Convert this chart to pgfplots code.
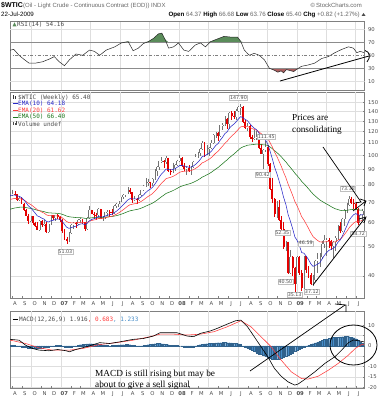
\documentclass[border=0pt]{standalone}
\usepackage{pgfplots}
\pgfplotsset{compat=1.18}
\usepackage{pgfplotstable}
\usepgfplotslibrary{fillbetween}
\usetikzlibrary{arrows.meta}
\usepackage{fontspec}
\setmainfont{Liberation Sans}
\newfontfamily\dv{DejaVu Sans}
\newfontfamily\dvm{DejaVu Sans Mono}
\newfontfamily\annot{Liberation Serif}
\definecolor{cred}{RGB}{228,0,0}
\definecolor{e10}{RGB}{40,40,200}
\definecolor{e20}{RGB}{255,60,60}
\definecolor{e50}{RGB}{30,120,30}
\definecolor{histc}{RGB}{70,140,200}
\definecolor{rsig}{RGB}{90,140,90}
\definecolor{rsir}{RGB}{170,95,95}
\newcommand{\tf}{\dv\fontsize{5.3}{6}\selectfont}
\newcommand{\lf}{\dvm\fontsize{6}{7}\selectfont}
\tikzset{lbl/.style={font=\dv\fontsize{4.8}{5}\selectfont, text=black!70, fill=white, draw=black!25, line width=0.3pt, inner sep=0.7pt}}

\pgfplotstableread{
i O H L C E10 E20 E50 d
0 73.8 77.0 72.8 74.4 73.66 71.32 66.14 0
1 74.4 76.0 72.9 74.4 73.79 71.62 66.46 0
2 74.4 77.1 73.6 74.8 73.98 71.92 66.79 0
3 74.8 76.5 73.9 74.4 74.05 72.15 67.09 1
4 74.4 74.6 70.9 71.1 73.52 72.05 67.25 1
5 71.1 73.4 70.8 72.5 73.33 72.10 67.46 0
6 72.5 72.9 69.0 69.2 72.58 71.82 67.53 1
7 69.2 69.8 65.6 66.3 71.44 71.30 67.48 1
8 66.3 66.8 63.2 63.3 69.96 70.54 67.32 1
9 63.3 64.1 59.5 60.6 68.25 69.59 67.06 1
10 60.6 63.3 60.2 62.9 67.28 68.95 66.90 0
11 62.9 63.0 58.9 59.8 65.92 68.08 66.62 1
12 59.8 60.5 57.9 58.6 64.59 67.18 66.31 1
13 58.6 60.2 56.6 56.8 63.17 66.19 65.94 1
14 56.8 61.1 56.4 60.8 62.74 65.68 65.74 0
15 60.8 61.3 57.9 59.1 62.07 65.05 65.48 1
16 59.1 61.1 58.4 59.6 61.62 64.53 65.25 0
17 59.6 60.1 55.3 55.8 60.56 63.70 64.88 1
18 55.8 59.6 55.5 59.2 60.32 63.27 64.66 0
19 59.2 63.8 59.0 63.4 60.88 63.29 64.61 0
20 63.4 63.7 61.4 62.0 61.08 63.16 64.51 1
21 62.0 63.8 60.6 63.4 61.51 63.19 64.47 0
22 63.4 64.0 61.5 62.4 61.67 63.11 64.39 1
23 62.4 62.9 60.5 61.1 61.57 62.92 64.26 1
24 61.1 61.5 55.3 56.3 60.61 62.29 63.95 1
25 56.3 57.0 52.4 53.0 59.22 61.40 63.52 1
26 53.0 53.8 51.03 52.0 57.91 60.51 63.07 1
27 52.0 55.9 51.8 55.4 57.45 60.02 62.77 0
28 55.4 59.4 55.1 59.0 57.73 59.92 62.62 0
29 59.0 60.3 57.3 59.9 58.13 59.92 62.51 0
30 59.9 60.4 57.8 59.4 58.36 59.87 62.39 1
31 59.4 61.7 58.9 61.1 58.86 59.99 62.34 0
32 61.1 62.0 59.9 61.6 59.36 60.14 62.31 0
33 61.6 61.9 59.2 60.1 59.49 60.14 62.22 1
34 60.1 60.3 56.1 57.1 59.06 59.85 62.02 1
35 57.1 62.7 56.7 62.3 59.65 60.08 62.03 0
36 62.3 68.1 61.8 65.9 60.79 60.64 62.18 0
37 65.9 66.2 63.9 64.3 61.43 60.99 62.26 1
38 64.3 64.9 61.9 63.6 61.82 61.23 62.31 1
39 63.6 64.8 61.3 63.4 62.11 61.44 62.35 1
40 63.4 66.9 63.0 66.5 62.91 61.92 62.51 0
41 66.5 66.7 61.5 61.9 62.73 61.92 62.49 1
42 61.9 63.1 60.9 62.4 62.67 61.97 62.49 0
43 62.4 65.3 61.8 64.9 63.07 62.25 62.58 0
44 64.9 66.0 63.1 65.2 63.46 62.53 62.68 0
45 65.2 66.0 62.8 65.1 63.76 62.77 62.78 1
46 65.1 66.6 63.8 64.8 63.95 62.97 62.86 1
47 64.8 68.4 64.1 68.0 64.69 63.45 63.06 0
48 68.0 69.5 67.2 69.0 65.47 63.97 63.29 0
49 69.0 71.0 67.8 70.7 66.42 64.61 63.58 0
50 70.7 73.1 70.1 72.8 67.58 65.39 63.94 0
51 72.8 74.6 71.6 73.9 68.73 66.20 64.33 0
52 73.9 76.0 73.0 75.6 69.98 67.10 64.77 0
53 75.6 78.8 74.5 77.0 71.26 68.04 65.25 0
54 77.0 78.0 74.5 75.5 72.03 68.75 65.65 1
55 75.5 75.6 69.8 71.5 71.93 69.01 65.88 1
56 71.5 73.6 70.5 72.0 71.95 69.30 66.12 0
57 72.0 72.5 69.0 71.1 71.79 69.47 66.32 1
58 71.1 74.5 70.6 74.0 72.19 69.90 66.62 0
59 74.0 77.2 73.5 76.7 73.02 70.55 67.02 0
60 76.7 80.2 76.2 79.1 74.12 71.36 67.49 0
61 79.1 84.1 78.6 81.6 75.48 72.34 68.04 0
62 81.6 83.9 79.3 81.7 76.62 73.23 68.58 0
63 81.7 82.0 78.3 81.2 77.45 73.99 69.07 1
64 81.2 84.3 79.6 83.7 78.59 74.91 69.65 0
65 83.7 90.1 82.8 88.6 80.41 76.22 70.39 0
66 88.6 92.2 85.7 91.9 82.50 77.71 71.23 0
67 91.9 96.2 89.6 95.9 84.94 79.44 72.20 0
68 95.9 98.6 94.4 96.3 87.01 81.05 73.15 0
69 96.3 96.8 91.2 95.1 88.48 82.38 74.01 1
70 95.1 99.3 94.0 98.2 90.25 83.89 74.95 0
71 98.2 98.4 88.4 88.7 89.97 84.35 75.49 1
72 88.7 90.2 86.2 88.3 89.66 84.72 75.99 1
73 88.3 94.8 87.6 91.3 89.96 85.35 76.59 0
74 91.3 93.7 89.0 93.3 90.57 86.10 77.25 0
75 93.3 97.0 92.6 96.0 91.56 87.04 77.98 0
76 96.0 100.1 95.0 97.9 92.71 88.08 78.76 0
77 97.9 98.7 91.8 92.7 92.71 88.52 79.31 1
78 92.7 94.3 88.9 90.6 92.33 88.72 79.75 1
79 90.6 91.9 86.1 90.7 92.03 88.90 80.18 0
80 90.7 92.8 88.4 89.0 91.48 88.91 80.53 1
81 89.0 92.2 86.1 91.8 91.54 89.19 80.97 0
82 91.8 96.0 91.2 95.5 92.26 89.79 81.54 0
83 95.5 101.3 94.9 98.8 93.45 90.65 82.22 0
84 98.8 103.1 98.0 101.8 94.97 91.71 82.98 0
85 101.8 106.0 99.6 105.2 96.83 92.99 83.86 0
86 105.2 111.8 104.1 110.2 99.26 94.63 84.89 0
87 110.2 110.6 98.7 101.8 99.73 95.31 85.55 1
88 101.8 108.0 100.3 105.6 100.79 96.29 86.34 0
89 105.6 106.4 99.6 106.2 101.78 97.24 87.12 0
90 106.2 112.2 105.3 110.1 103.29 98.46 88.02 0
91 110.1 117.8 108.9 116.7 105.73 100.20 89.14 0
92 116.7 119.9 114.5 118.5 108.06 101.94 90.29 0
93 118.5 119.9 111.8 116.3 109.56 103.31 91.31 1
94 116.3 126.2 115.5 126.0 112.55 105.47 92.68 0
95 126.0 127.8 121.8 126.3 115.05 107.45 94.00 0
96 126.3 135.1 125.6 132.2 118.17 109.81 95.50 0
97 132.2 133.3 122.5 127.4 119.85 111.48 96.75 1
98 127.4 139.1 122.3 138.5 123.25 114.05 98.38 0
99 138.5 139.9 131.5 134.9 125.37 116.04 99.81 1
100 134.9 139.9 131.8 134.6 127.05 117.81 101.18 1
101 134.6 142.9 131.5 140.2 129.44 119.94 102.71 0
102 140.2 145.9 139.3 144.3 132.15 122.26 104.34 0
103 144.3 147.90 136.0 145.1 134.50 124.43 105.94 0
104 145.1 145.6 128.2 128.9 133.48 124.86 106.84 1
105 128.9 131.4 122.2 123.3 131.63 124.71 107.48 1
106 123.3 127.9 120.4 125.1 130.44 124.75 108.17 0
107 125.1 125.8 113.4 115.2 127.67 123.84 108.45 1
108 115.2 117.3 111.3 113.8 125.14 122.88 108.66 1
109 113.8 121.8 112.2 114.6 123.22 122.09 108.89 0
110 114.6 120.4 113.0 115.5 121.82 121.46 109.15 0
111 115.5 118.3 105.5 106.2 118.98 120.01 109.04 1
112 106.2 108.9 100.9 101.2 115.74 118.22 108.73 1
113 101.2 105.0 90.42 104.6 113.71 116.92 108.57 0
114 104.6 111.45 103.0 106.9 112.47 115.97 108.50 0
115 106.9 108.4 92.6 93.9 109.09 113.87 107.93 1
116 93.9 94.5 77.2 77.7 103.38 110.42 106.74 1
117 77.7 84.5 69.9 71.9 97.65 106.76 105.38 1
118 71.9 72.2 62.6 64.2 91.56 102.71 103.76 1
119 64.2 71.0 62.0 67.8 87.24 99.38 102.35 0
120 67.8 71.2 60.9 61.0 82.46 95.73 100.73 1
121 61.0 63.2 55.8 57.0 77.83 92.04 99.02 1
122 57.0 60.5 49.1 49.9 72.75 88.03 97.09 1
123 49.9 52.35 48.3 51.8 68.94 84.58 95.32 0
124 51.8 51.9 40.50 40.8 63.82 80.41 93.19 1
125 40.8 48.6 40.6 46.3 60.64 77.16 91.35 0
126 46.3 46.5 39.9 42.4 57.32 73.85 89.43 1
127 42.4 42.9 35.13 37.7 53.75 70.41 87.40 1
128 37.7 46.5 37.5 46.3 52.39 68.11 85.79 0
129 46.3 46.4 40.4 40.8 50.28 65.51 84.02 1
130 40.8 41.9 35.6 36.5 47.77 62.75 82.16 1
131 36.5 46.59 36.3 46.5 47.54 61.20 80.76 0
132 46.5 46.5 40.9 41.7 46.48 59.34 79.23 1
133 41.7 43.0 39.5 40.2 45.34 57.52 77.69 1
134 40.2 40.8 37.3 37.5 43.91 55.61 76.13 1
135 37.5 40.3 37.12 38.9 43.00 54.02 74.66 0
136 38.9 45.3 38.4 44.8 43.33 53.14 73.49 0
137 44.8 47.6 40.9 45.5 43.72 52.41 72.40 0
138 45.5 47.5 42.8 46.3 44.19 51.83 71.37 0
139 46.3 52.0 45.4 51.1 45.45 51.76 70.58 0
140 51.1 54.7 49.5 52.4 46.71 51.82 69.86 0
141 52.4 53.3 46.5 52.5 47.76 51.88 69.18 0
142 52.5 53.4 49.6 52.2 48.57 51.92 68.52 1
143 52.2 52.6 48.8 50.3 48.88 51.76 67.81 1
144 50.3 52.0 45.7 51.6 49.38 51.74 67.18 0
145 51.6 54.1 48.3 53.2 50.07 51.88 66.63 0
146 53.2 58.8 52.7 58.6 51.62 52.51 66.32 0
147 58.6 60.1 55.4 56.3 52.47 52.88 65.92 1
148 56.3 62.3 56.0 61.7 54.15 53.72 65.76 0
149 61.7 66.4 58.4 66.3 56.36 54.91 65.79 0
150 66.3 69.5 64.5 68.4 58.55 56.19 65.89 0
151 68.4 73.38 67.9 72.0 61.00 57.69 66.13 0
152 72.0 73.2 69.3 69.6 62.56 58.83 66.26 1
153 69.6 72.0 66.7 69.2 63.77 59.82 66.38 1
154 69.2 70.4 66.4 66.7 64.30 60.47 66.39 1
155 66.7 67.2 58.72 59.9 63.50 60.42 66.13 1
156 59.9 64.2 59.2 63.6 63.52 60.72 66.03 0
157 63.6 66.7 61.0 65.4 63.86 61.16 66.01 0
}\wtic

\pgfplotstableread[row sep=\\]{
i v\\ 0.4 57\\ 1.1 58\\ 2.6 59\\ 4.9 50\\ 7.0 44\\ 9.3 38\\ 12.3 38\\ 15.3 40\\ 18.2 44\\ 20.5 48\\
22.7 40\\ 25.0 34\\ 27.2 43\\ 30.1 52\\ 33.1 50\\ 36.1 58\\ 38.3 56\\ 40.6 50\\ 43.5 58\\ 47.3 63\\
50.2 69\\ 53.2 71\\ 55.4 57\\ 57.7 61\\ 59.9 68\\ 62.1 71\\ 64.4 76\\ 66.6 83\\ 68.1 84\\ 69.6 74\\
71.1 61\\ 73.3 63\\ 75.5 69\\ 77.8 58\\ 80.0 56\\ 83.0 66\\ 85.2 69\\ 87.4 63\\ 89.7 71\\ 92.6 75\\
95.6 79\\ 98.6 78\\ 101.6 78\\ 103.1 71\\ 104.6 58\\ 106.8 50\\ 109.0 53\\ 111.2 50\\ 113.5 43\\ 115.7 30\\
117.9 27\\ 119.4 24\\ 120.9 26\\ 122.0 23\\ 123.2 28\\ 124.3 27\\ 125.4 26\\ 126.5 25\\ 127.6 28\\ 129.9 33\\
132.8 35\\ 135.8 38\\ 138.8 45\\ 141.8 48\\ 144.7 54\\ 147.7 59\\ 150.7 63\\ 152.9 61\\ 154.4 54\\ 155.9 56\\
157.5 54.2\\
}\rsi

\pgfplotstableread[row sep=\\]{
i v\\ 0.4 3.2\\ 1.1 3.1\\ 4.9 2.7\\ 7.8 0.3\\ 10.8 -1.3\\ 13.8 -2.1\\ 18.2 -2.4\\ 22.0 -1.8\\ 25.7 -2.4\\ 27.2 -2.9\\
30.1 -1.8\\ 34.6 -0.5\\ 40.6 1.5\\ 45.0 1.1\\ 49.5 1.9\\ 55.4 3.1\\ 59.9 3.5\\ 64.4 4.7\\ 67.3 6.3\\ 70.3 6.3\\
74.8 6.3\\ 79.3 4.7\\ 82.2 4.4\\ 85.2 6.0\\ 89.7 7.2\\ 92.6 8.4\\ 97.1 10.5\\ 100.8 12.1\\ 103.1 12.4\\ 106.0 9.2\\
109.0 4.4\\ 112.0 -0.5\\ 115.0 -5.3\\ 117.9 -10.9\\ 120.9 -14.7\\ 123.9 -17.4\\ 126.9 -19.0\\ 128.4 -18.5\\ 131.3 -16.3\\ 135.8 -12.6\\
140.3 -8.5\\ 144.7 -5.3\\ 147.7 -2.1\\ 150.7 1.5\\ 152.9 2.8\\ 155.2 2.4\\ 157.5 1.9\\
}\macd

\pgfplotstableread[row sep=\\]{
i v\\ 0.4 2.8\\ 1.1 2.7\\ 7.8 1.1\\ 13.8 -1.0\\ 19.7 -2.1\\ 27.2 -2.1\\ 33.1 -1.3\\ 40.6 0.6\\ 48.0 1.5\\ 55.4 2.7\\
62.9 4.4\\ 67.3 5.6\\ 73.3 5.6\\ 79.3 5.2\\ 85.2 5.6\\ 91.2 6.8\\ 97.1 9.2\\ 103.1 12.1\\ 107.5 9.2\\ 112.0 4.4\\
116.5 -0.5\\ 120.9 -6.9\\ 125.4 -12.6\\ 129.9 -15.8\\ 132.8 -16.1\\ 137.3 -14.7\\ 141.8 -11.8\\ 146.2 -8.5\\ 150.7 -4.5\\ 153.7 -1.3\\
156.6 0.6\\ 157.5 0.68\\
}\signal

\pgfplotstableread[row sep=\\]{
i h\\ 0 0.4\\ 1 0.3\\ 2 0.2\\ 3 0.1\\ 4 0\\ 5 -0.2\\ 6 -0.4\\ 7 -0.6\\ 8 -0.8\\ 9 -1.0\\
10 -1.1\\ 11 -1.2\\ 12 -1.2\\ 13 -1.1\\ 14 -1.0\\ 15 -0.9\\ 16 -0.8\\ 17 -0.6\\ 18 -0.5\\ 19 -0.3\\
20 -0.1\\ 21 0.1\\ 22 0.2\\ 23 0.1\\ 24 -0.2\\ 25 -0.5\\ 26 -0.7\\ 27 -0.8\\ 28 -0.6\\ 29 -0.3\\
30 0.0\\ 31 0.3\\ 32 0.5\\ 33 0.7\\ 34 0.8\\ 35 0.9\\ 36 1.0\\ 37 1.0\\ 38 0.9\\ 39 0.8\\
40 0.7\\ 41 0.6\\ 42 0.4\\ 43 0.2\\ 44 0.1\\ 45 0.0\\ 46 0.1\\ 47 0.2\\ 48 0.3\\ 49 0.4\\
50 0.5\\ 51 0.5\\ 52 0.6\\ 53 0.6\\ 54 0.5\\ 55 0.3\\ 56 0.1\\ 57 -0.1\\ 58 -0.2\\ 59 -0.1\\
60 0.1\\ 61 0.3\\ 62 0.5\\ 63 0.7\\ 64 0.9\\ 65 1.0\\ 66 1.1\\ 67 1.1\\ 68 1.0\\ 69 0.9\\
70 0.7\\ 71 0.5\\ 72 0.3\\ 73 0.2\\ 74 0.2\\ 75 0.1\\ 76 0.0\\ 77 -0.2\\ 78 -0.4\\ 79 -0.6\\
80 -0.7\\ 81 -0.6\\ 82 -0.4\\ 83 -0.1\\ 84 0.2\\ 85 0.5\\ 86 0.8\\ 87 0.9\\ 88 1.0\\ 89 1.1\\
90 1.2\\ 91 1.3\\ 92 1.4\\ 93 1.5\\ 94 1.5\\ 95 1.6\\ 96 1.6\\ 97 1.5\\ 98 1.5\\ 99 1.4\\
100 1.3\\ 101 1.2\\ 102 1.0\\ 103 0.6\\ 104 0.0\\ 105 -0.6\\ 106 -1.2\\ 107 -1.8\\ 108 -2.3\\ 109 -2.8\\
110 -3.3\\ 111 -3.8\\ 112 -4.2\\ 113 -4.7\\ 114 -5.2\\ 115 -5.7\\ 116 -6.0\\ 117 -6.3\\ 118 -6.5\\ 119 -6.5\\
120 -6.3\\ 121 -6.0\\ 122 -5.6\\ 123 -5.1\\ 124 -4.5\\ 125 -3.9\\ 126 -3.3\\ 127 -2.7\\ 128 -2.1\\ 129 -1.6\\
130 -1.1\\ 131 -0.6\\ 132 -0.2\\ 133 0.2\\ 134 0.6\\ 135 1.0\\ 136 1.4\\ 137 1.8\\ 138 2.2\\ 139 2.6\\
140 3.0\\ 141 3.3\\ 142 3.6\\ 143 3.8\\ 144 4.0\\ 145 4.1\\ 146 4.2\\ 147 4.3\\ 148 4.4\\ 149 4.5\\
150 4.5\\ 151 4.4\\ 152 4.2\\ 153 3.9\\ 154 3.4\\ 155 2.8\\ 156 2.0\\ 157 1.2\\
}\histo

\pgfplotsset{
  panel/.style={
    scale only axis, width=354.5pt, xmin=0.9, xmax=157.8,
    axis line style={black!50, line width=0.4pt},
    ytick pos=right, yticklabel pos=right,
    ymajorgrids, grid style={black!13, line width=0.35pt},
    tick style={black!50, line width=0.3pt}, major tick length=1.6pt,
    ticklabel style={font=\tf, text=black!70},
    /pgf/number format/assume math mode=true,
    extra x ticks={10.46,23.6,36.46,49.46,62.6,75.74,88.74,101.74,114.89,128.03,140.89,153.89},
    extra x tick labels={},
    extra x tick style={grid=major, major tick length=0pt},
  },
  months/.style={
    xtick={1.74,6.17,10.46,14.89,19.17,23.6,28.03,32.03,36.46,40.74,45.17,49.46,53.89,58.31,62.6,67.03,71.31,75.74,80.17,84.31,88.74,93.03,97.46,101.74,106.17,110.6,114.89,119.31,123.6,128.03,132.46,136.46,140.89,145.17,149.6,153.89},
    xticklabels={A,S,O,N,D,\textbf{07},F,M,A,M,J,J,A,S,O,N,D,\textbf{08},F,M,A,M,J,J,A,S,O,N,D,\textbf{09},F,M,A,M,J,J},
    xtick pos=bottom, xticklabel style={xshift=3pt},
  },
  candle/.style={draw=none, mark=none, forget plot,
    error bars/y dir=minus, error bars/y explicit, error bars/error mark=none},
}

\begin{document}
\begin{tikzpicture}
\path (0,0) rectangle (388pt,400pt);

% ---------------- RSI panel
\begin{axis}[panel, at={(10pt,310pt)}, anchor=south west, height=69.3pt,
  ymin=-3.4, ymax=103.2, xtick=\empty, ymajorgrids=false,
  ytick={10,30,50,70,90}, yticklabels={10,30,50,70,90}]
\addplot[black!12, line width=0.35pt] coordinates {(0,10) (160,10)};
\addplot[black!12, line width=0.35pt] coordinates {(0,90) (160,90)};
\addplot[black!50, line width=0.4pt, dash dot] coordinates {(0,50) (160,50)};
\addplot[name path=rsiup, draw=none] table[x=i, y expr={max(\thisrow{v},70)}]{\rsi};
\addplot[name path=rsidn, draw=none] table[x=i, y expr={min(\thisrow{v},30)}]{\rsi};
\addplot[name path=l70, draw=none] coordinates {(0.4,70) (157.5,70)};
\addplot[name path=l30, draw=none] coordinates {(0.4,30) (157.5,30)};
\addplot[rsig] fill between[of=rsiup and l70];
\addplot[rsir] fill between[of=rsidn and l30];
\addplot[black!45, line width=0.5pt] coordinates {(0,70) (160,70)};
\addplot[black!45, line width=0.5pt] coordinates {(0,30) (160,30)};
\addplot[black!85, line width=0.5pt] table[x=i,y=v]{\rsi};
\end{axis}

% ---------------- Price panel
\begin{axis}[panel, months, at={(10pt,102pt)}, anchor=south west, height=206pt,
  clip mode=individual,
  ymode=log, ymin=33.8, ymax=162.3,
  ytick={40,50,60,70,80,90,100,110,120,130,140,150},
  yticklabels={40,50,60,70,80,90,100,110,120,130,140,150}]
% up candles: hollow grey
\addplot[candle, restrict expr to domain={\thisrow{d}}{0:0},
  error bars/error bar style={draw=black!55, line width=0.4pt}]
  table[x=i, y=H, y error minus expr=\thisrow{H}-\thisrow{L}]{\wtic};
\addplot[candle, restrict expr to domain={\thisrow{d}}{0:0},
  error bars/error bar style={draw=black!55, line width=1.9pt}]
  table[x=i, y=C, y error minus expr=\thisrow{C}-\thisrow{O}]{\wtic};
\addplot[candle, restrict expr to domain={\thisrow{d}}{0:0},
  error bars/error bar style={draw=white, line width=1.0pt}]
  table[x=i, y=C, y error minus expr=\thisrow{C}-\thisrow{O}]{\wtic};
% down candles: red filled
\addplot[candle, restrict expr to domain={\thisrow{d}}{1:1},
  error bars/error bar style={draw=cred, line width=0.4pt}]
  table[x=i, y=H, y error minus expr=\thisrow{H}-\thisrow{L}]{\wtic};
\addplot[candle, restrict expr to domain={\thisrow{d}}{1:1},
  error bars/error bar style={draw=cred, line width=1.9pt}]
  table[x=i, y=O, y error minus expr=\thisrow{O}-\thisrow{C}]{\wtic};
\addplot[e50, line width=0.55pt] table[x=i,y=E50]{\wtic};
\addplot[e20, line width=0.55pt] table[x=i,y=E20]{\wtic};
\addplot[e10, line width=0.55pt] table[x=i,y=E10]{\wtic};
\node[lbl] at (axis cs:102,155.4) {147.90};
\node[lbl] at (axis cs:114.3,115.5) {111.45};
\node[lbl] at (axis cs:112.8,86.3) {90.42};
\node[lbl] at (axis cs:25.4,48.0) {51.03};
\node[lbl] at (axis cs:121.4,55.5) {52.35};
\node[lbl] at (axis cs:122.8,38.3) {40.50};
\node[lbl] at (axis cs:126.9,34.6) {35.13};
\node[lbl] at (axis cs:131.8,51.3) {46.59};
\node[lbl] at (axis cs:134.5,35.4) {37.12};
\node[lbl] at (axis cs:150.5,77.6) {73.38};
\node[lbl] at (axis cs:155.0,55.3) {58.72};
\end{axis}

% ---------------- MACD panel
\begin{axis}[panel, months, at={(10pt,12pt)}, anchor=south west, height=77pt,
  ymin=-20.4, ymax=16.8,
  ytick={-20,-15,-10,-5,0,5,10}, yticklabels={-20,-15,-10,,0,,10}]
\addplot[ybar, bar width=1.6pt, fill=histc, draw=histc!70!black, line width=0.15pt] table[x=i,y=h]{\histo};
\addplot[histc!70!black, dashed, line width=0.3pt] coordinates {(0,0) (160,0)};
\addplot[e20, line width=0.55pt] table[x=i,y=v]{\signal};
\addplot[black, line width=0.6pt] table[x=i,y=v]{\macd};
\end{axis}

% ---------------- texts and annotations (top-based coordinates)
\begin{scope}[shift={(0,400pt)}, x=1pt, y=-1pt]
\node[anchor=west, inner sep=0, font=\fontsize{7}{8}\selectfont\bfseries] at (1,5.5) {\$WTIC};
\node[anchor=west, inner sep=0, font=\fontsize{6}{7}\selectfont, text=black!60] at (23,5.7) {(Oil - Light Crude - Continuous Contract (EOD)) INDX};
\node[anchor=east, inner sep=0, font=\fontsize{6}{7}\selectfont, text=black!60] at (362,5.7) {\textcopyright\,StockCharts.com};
\node[anchor=west, inner sep=0, font=\fontsize{6.2}{7}\selectfont] at (1,14.7) {22-Jul-2009};
\node[anchor=east, inner sep=0, font=\fontsize{6.2}{7}\selectfont, text=black!60] at (360,14.7)
  {\textcolor{black}{\bfseries Open} 64.37 \textcolor{black}{\bfseries High} 66.68 \textcolor{black}{\bfseries Low} 63.76 \textcolor{black}{\bfseries Close} 65.40 \textcolor{black}{\bfseries Chg} +0.82 (+1.27\%)};
\fill[black!70] (361.5,16) -- (365.5,16) -- (363.5,13) -- cycle;

\fill[rsig] (12.5,26.5) -- (14.5,22.5) -- (16.5,26.5) -- cycle;
\node[anchor=west, inner sep=0, font=\lf, text=black!70] at (17,24.6) {RSI(14) 54.16};

\fill[black!80] (13,95.5) rectangle (13.8,99.5); \fill[black!80] (14.8,96) rectangle (15.6,99);
\node[anchor=west, inner sep=0, font=\lf, text=black!70] at (18,97.6) {\$WTIC (Weekly) 65.40};
\draw[e10, line width=0.8pt] (13,103.6) -- (17.5,103.6);
\node[anchor=west, inner sep=0, font=\lf, text=e10] at (18,103.6) {EMA(10) 64.18};
\draw[e20, line width=0.8pt] (13,110.2) -- (17.5,110.2);
\node[anchor=west, inner sep=0, font=\lf, text=e20] at (18,110.2) {EMA(20) 61.62};
\draw[e50, line width=0.8pt] (13,117) -- (17.5,117);
\node[anchor=west, inner sep=0, font=\lf, text=e50] at (18,117) {EMA(50) 66.40};
\fill[black!70] (13,122) rectangle (13.8,125.5); \fill[black!70] (14.6,123) rectangle (15.4,125.5); \fill[black!70] (16.2,121.5) rectangle (17,125.5);
\node[anchor=west, inner sep=0, font=\lf, text=black!70] at (18,123.8) {Volume undef};

\draw[black, line width=0.8pt] (12.5,319.6) -- (17.5,319.6);
\node[anchor=west, inner sep=0, font=\lf] at (19,319.6) {\textcolor{black!70}{MACD(12,26,9) 1.916}\textcolor{e20}{, 0.683}\textcolor{histc}{, 1.233}};

\draw[line width=0.8pt] (280,81) -- (369,56);
\draw[line width=0.8pt] (365,50.5) .. controls (370,52) and (371,57) .. (367,62);

\node[anchor=north west, inner sep=0, align=left, font=\annot\fontsize{9.2}{12.7}\selectfont] at (292,114) {Prices are\\consolidating};
\draw[line width=0.7pt] (323,147) -- (361,202) -- (355,203);
\draw[line width=0.7pt] (353,211) -- (366,201);
\draw[line width=0.7pt] (360,199) -- (366,201) -- (364,206);
\draw[line width=0.8pt] (313,285) -- (365,218);
\draw[line width=0.7pt] (359,219) -- (366,217) -- (364,223);

\node[anchor=north west, inner sep=0, align=left, font=\annot\fontsize{9.3}{11.3}\selectfont] at (95,370) {MACD is still rising but may be\\about to give a sell signal};
\draw[line width=0.7pt] (250,371) -- (345,305);
\draw[line width=0.7pt] (335,304) -- (346,305) -- (346,312);
\draw[line width=0.8pt] (353.5,345) ellipse (23.5 and 20);
\end{scope}
\end{tikzpicture}
\end{document}
